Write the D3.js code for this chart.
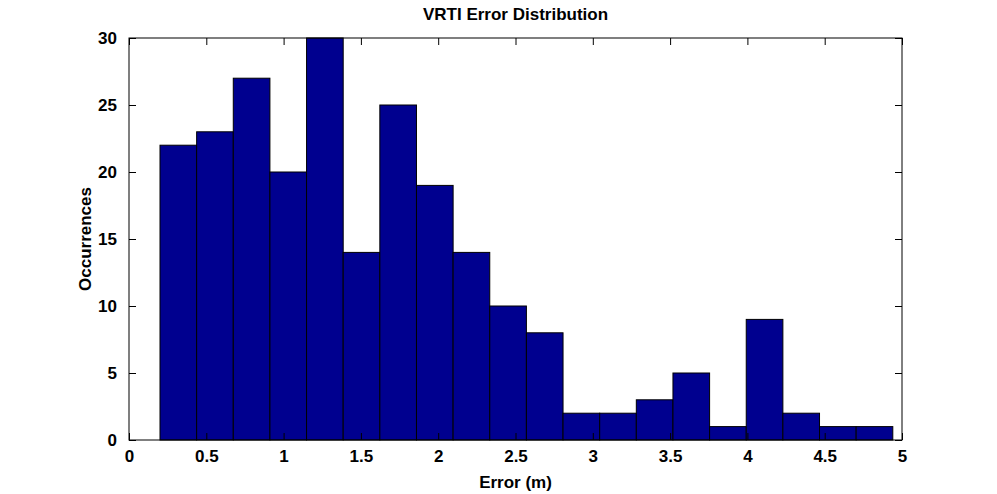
<!DOCTYPE html>
<html><head><meta charset="utf-8">
<script src="https://cdn.jsdelivr.net/npm/d3@7"></script>
<style>body{margin:0;background:#fff}text{font-family:"Liberation Sans",Arial,sans-serif;font-weight:bold}</style>
</head><body><svg id="c" width="997" height="494"></svg>
<script>
const binStart = 0.2005, binWidth = 0.2370;
const counts = [22,23,27,20,30,14,25,19,14,10,8,2,2,3,5,1,9,2,1,1];
const xTicks = [0,0.5,1,1.5,2,2.5,3,3.5,4,4.5,5];
const yTicks = [0,5,10,15,20,25,30];
const title = "VRTI Error Distribution", xLabel = "Error (m)", yLabel = "Occurrences";

const svg = d3.select("#c");
const L=129,R=902,T=38,B=440;
const x = d3.scaleLinear().domain([0,5]).range([L,R]);
const y = d3.scaleLinear().domain([0,30]).range([B,T]);

svg.selectAll("rect.bar").data(counts).enter().append("rect")
  .attr("x",(d,i)=>x(binStart+i*binWidth)).attr("width",(d,i)=>x(binStart+(i+1)*binWidth)-x(binStart+i*binWidth))
  .attr("y",d=>y(d)).attr("height",d=>B-y(d))
  .attr("fill","#00008f").attr("stroke","#000").attr("stroke-width",1);

svg.append("rect").attr("x",L).attr("y",T).attr("width",R-L).attr("height",B-T).attr("fill","none").attr("stroke","#000");
const tl=7;
function ax(g,tickLen){g.call(s=>s.select(".domain").remove());g.selectAll(".tick line").attr("stroke","#000");g.selectAll("text").attr("font-size",17).attr("fill","#000");}
svg.append("g").attr("transform",`translate(0,${B})`).call(d3.axisBottom(x).tickValues(xTicks).tickFormat(d3.format("")).tickSizeInner(-tl).tickPadding(10)).call(ax);
svg.append("g").attr("transform",`translate(0,${T})`).call(d3.axisTop(x).tickValues(xTicks).tickFormat("").tickSizeInner(-tl)).call(ax);
svg.append("g").attr("transform",`translate(${L},0)`).call(d3.axisLeft(y).tickValues(yTicks).tickSizeInner(-tl).tickPadding(12)).call(ax);
svg.append("g").attr("transform",`translate(${R},0)`).call(d3.axisRight(y).tickValues(yTicks).tickFormat("").tickSizeInner(-tl)).call(ax);

svg.append("text").attr("x",(L+R)/2).attr("y",20).attr("text-anchor","middle").attr("font-size",17).text(title);
svg.append("text").attr("x",(L+R)/2).attr("y",488).attr("text-anchor","middle").attr("font-size",17).text(xLabel);
svg.append("text").attr("transform",`translate(91,${(T+B)/2}) rotate(-90)`).attr("text-anchor","middle").attr("font-size",17).text(yLabel);
</script></body></html>
